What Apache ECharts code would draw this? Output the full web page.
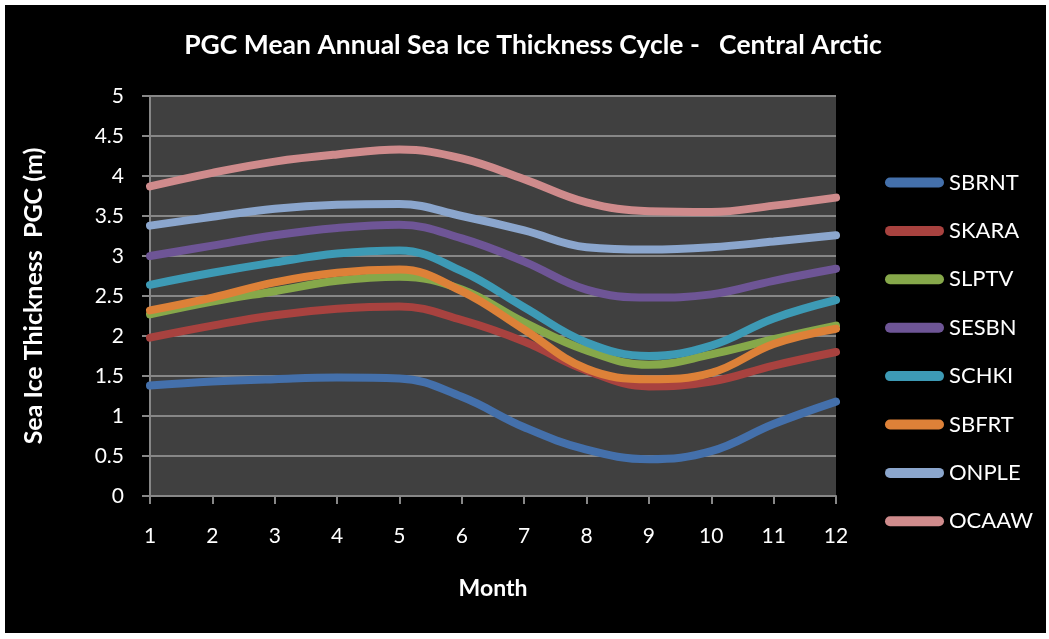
<!DOCTYPE html>
<html>
<head>
<meta charset="utf-8">
<script src="https://cdn.jsdelivr.net/npm/echarts@6/dist/echarts.min.js"></script>
<style>
html,body{margin:0;padding:0;background:#fff;}
#c{width:1049px;height:639px;}
</style>
</head>
<body>
<div id="c"></div>
<script>
var months = ['1','2','3','4','5','6','7','8','9','10','11','12'];
var seriesNames = ['SBRNT','SKARA','SLPTV','SESBN','SCHKI','SBFRT','ONPLE','OCAAW'];
var SBRNT = [1.38, 1.43, 1.46, 1.48, 1.47, 1.24, 0.86, 0.58, 0.46, 0.56, 0.90, 1.18];
var SKARA = [1.98, 2.13, 2.26, 2.34, 2.37, 2.20, 1.93, 1.57, 1.37, 1.43, 1.63, 1.80];
var SLPTV = [2.27, 2.43, 2.56, 2.69, 2.74, 2.58, 2.17, 1.82, 1.64, 1.77, 1.96, 2.13];
var SESBN = [3.00, 3.13, 3.26, 3.35, 3.39, 3.22, 2.93, 2.58, 2.48, 2.52, 2.69, 2.84];
var SCHKI = [2.64, 2.79, 2.92, 3.03, 3.07, 2.81, 2.36, 1.92, 1.75, 1.88, 2.22, 2.45];
var SBFRT = [2.32, 2.48, 2.67, 2.79, 2.83, 2.56, 2.08, 1.59, 1.46, 1.54, 1.90, 2.09];
var ONPLE = [3.38, 3.49, 3.59, 3.64, 3.65, 3.50, 3.32, 3.11, 3.08, 3.11, 3.18, 3.26];
var OCAAW = [3.87, 4.04, 4.18, 4.27, 4.33, 4.22, 3.96, 3.67, 3.56, 3.55, 3.63, 3.73];
var seriesData = [SBRNT, SKARA, SLPTV, SESBN, SCHKI, SBFRT, ONPLE, OCAAW];
var colors = ['#4470AB','#A8423F','#86A84A','#6E5596','#3D9AB5','#DD8138','#8BA6CD','#CF8B8C'];
var yTicks = ['0','0.5','1','1.5','2','2.5','3','3.5','4','4.5','5'];

var FONT = 'Lato, "Open Sans", sans-serif';
var chart = echarts.init(document.getElementById('c'), null, {renderer:'canvas'});
var series = seriesNames.map(function(n, i){
  return {
    name: n, type: 'line', data: seriesData[i], smooth: 0.4,
    symbol: 'none', color: colors[i],
    lineStyle: {width: 8, color: colors[i], cap: 'round'},
    z: 3
  };
});
chart.setOption({
  animation: false,
  backgroundColor: '#ffffff',
  graphic: [{type:'rect', shape:{x:5,y:5,width:1041,height:628}, style:{fill:'#000'}, z:-100, silent:true}],
  title: {
    text: 'PGC Mean Annual Sea Ice Thickness Cycle -   Central Arctic',
    left: 533, top: 32, textAlign: 'center', padding: 0,
    textStyle: {color:'#fff', fontFamily: FONT, fontWeight:'bold', fontSize: 26.5}
  },
  legend: {
    orient: 'vertical', left: 885, top: 171, padding: 0,
    itemWidth: 59, itemHeight: 10, itemGap: 25.4,
    icon: 'path://M5,0 L54,0 A5,5 0 0 1 54,10 L5,10 A5,5 0 0 1 5,0 Z',
    textStyle: {color:'#fff', fontFamily: FONT, fontSize: 22, lineHeight: 23},
    data: seriesNames
  },
  grid: {left:150, top:96, right:213, bottom:143, show:true, backgroundColor:'#404040', borderWidth:0},
  xAxis: {
    type: 'category', data: months, boundaryGap: false,
    name: 'Month', nameLocation: 'middle', nameGap: 81,
    nameTextStyle: {color:'#fff', fontFamily: FONT, fontWeight:'bold', fontSize: 23},
    axisLine: {lineStyle:{color:'#878787', width:2}},
    axisTick: {show:true, alignWithLabel:true, length:8, lineStyle:{color:'#878787', width:2}},
    axisLabel: {color:'#fff', fontFamily: FONT, fontSize: 21, margin: 30},
    splitLine: {show:false}
  },
  yAxis: {
    type: 'value', min: 0, max: 5, interval: 0.5,
    name: 'Sea Ice Thickness  PGC (m)', nameLocation: 'middle', nameGap: 104,
    nameTextStyle: {color:'#fff', fontFamily: FONT, fontWeight:'bold', fontSize: 25},
    axisLine: {show:true, lineStyle:{color:'#878787', width:2}},
    axisTick: {show:true, length:8, lineStyle:{color:'#878787', width:2}},
    axisLabel: {color:'#fff', fontFamily: FONT, fontSize: 21, margin: 26,
      formatter: function(v){ return yTicks[Math.round(v/0.5)]; }},
    splitLine: {show:true, lineStyle:{color:'#878787', width:2}}
  },
  series: series
});
</script>
</body>
</html>
